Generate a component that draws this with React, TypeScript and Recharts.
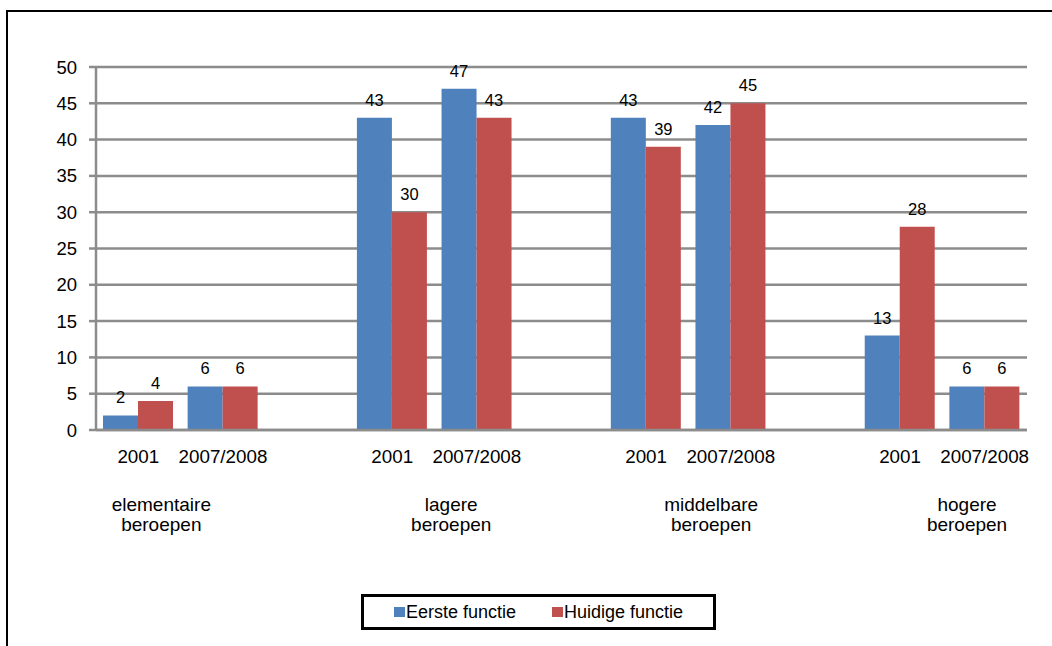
import React from 'react';
import { BarChart, Bar, XAxis, YAxis, CartesianGrid, Legend, LabelList } from 'recharts';

const groupLines = [
  ['elementaire', 'beroepen'],
  ['lagere', 'beroepen'],
  ['middelbare', 'beroepen'],
  ['hogere', 'beroepen'],
];
const years = ['2001', '2007/2008'];
const eersteFunctie = [2, 6, 43, 47, 43, 42, 13, 6];
const huidigeFunctie = [4, 6, 30, 43, 39, 45, 28, 6];
const yTicks = [0, 5, 10, 15, 20, 25, 30, 35, 40, 45, 50];

type Row = { id: string; year: string; group: number; eerste: number | null; huidige: number | null };
const rows: Row[] = [];
groupLines.forEach((_, g) => {
  years.forEach((y, j) => {
    const k = g * years.length + j;
    rows.push({ id: `${g}-${y}`, year: y, group: g, eerste: eersteFunctie[k], huidige: huidigeFunctie[k] });
  });
  if (g < groupLines.length - 1) rows.push({ id: `gap-${g}`, year: '', group: -1, eerste: null, huidige: null });
});

// horizontal placement of the two-line group captions relative to the "2001" tick
const groupShift = [23, 59, 65, 67];

const FONT = '"Liberation Sans", Arial, sans-serif';
const GRID = '#8c8c8c';
const BLUE = '#4F81BD';
const RED = '#C0504D';

const CategoryTick = (props: any) => {
  const { x, y, payload } = props;
  const row = rows.find((r) => r.id === payload.value);
  if (!row || !row.year) return null;
  const showGroup = row.year === years[0];
  return (
    <g>
      <text x={x} y={y + 33} textAnchor="middle" fontSize={18.8} fill="#000" fontFamily={FONT}>
        {row.year}
      </text>
      {showGroup &&
        groupLines[row.group].map((line, i) => (
          <text key={i} x={x + groupShift[row.group]} y={y + 81 + i * 20} textAnchor="middle" fontSize={19} fill="#000" fontFamily={FONT}>
            {line}
          </text>
        ))}
    </g>
  );
};

const LegendContent = (props: any) => {
  const items = props.payload || [];
  return (
    <div style={{ display: 'flex', justifyContent: 'center', alignItems: 'center', height: '100%', fontFamily: FONT, fontSize: 18, color: '#000' }}>
      {items.map((it: any, i: number) => (
        <div key={i} style={{ display: 'flex', alignItems: 'center', marginLeft: i === 0 ? 0 : 36 }}>
          <span style={{ display: 'inline-block', width: 11, height: 10, background: it.color, marginRight: 1 }} />
          <span>{it.value}</span>
        </div>
      ))}
    </div>
  );
};

export default function App() {
  return (
    <div style={{ position: 'fixed', left: 0, top: 0, width: 1052, height: 646, overflow: 'hidden', background: '#fff' }}>
      <div style={{ position: 'absolute', left: 6, top: 10, width: 2000, height: 2000, border: '2px solid #000' }} />
      <div style={{ position: 'absolute', left: 0, top: 0 }}>
        <BarChart
          width={1052}
          height={646}
          data={rows}
          margin={{ top: 67, right: 25, bottom: 96, left: 0 }}
          barCategoryGap={7}
          barGap={0}
        >
          <CartesianGrid vertical={false} stroke={GRID} strokeWidth={2.5} />
          <XAxis
            dataKey="id"
            interval={0}
            tickLine={false}
            tickSize={0}
            tickMargin={0}
            height={120}
            axisLine={{ stroke: GRID, strokeWidth: 2.5 }}
            tick={<CategoryTick />}
          />
          <YAxis
            type="number"
            domain={[0, 50]}
            ticks={yTicks}
            interval={0}
            width={96}
            tickSize={7}
            tickMargin={12}
            axisLine={{ stroke: GRID, strokeWidth: 2.5 }}
            tickLine={{ stroke: GRID, strokeWidth: 2.5 }}
            tick={{ fill: '#000', fontSize: 18.5, fontFamily: FONT }}
          />
          <Legend
            layout="horizontal"
            verticalAlign="middle"
            align="center"
            content={<LegendContent />}
            wrapperStyle={{ left: 361, top: 594, width: 355, height: 36, border: '3px solid #000', boxSizing: 'border-box', background: '#fff' }}
          />
          <Bar dataKey="eerste" name="Eerste functie" fill={BLUE} isAnimationActive={false}>
            <LabelList dataKey="eerste" position="top" offset={12} fill="#000" fontSize={16.5} fontFamily={FONT} />
          </Bar>
          <Bar dataKey="huidige" name="Huidige functie" fill={RED} isAnimationActive={false}>
            <LabelList dataKey="huidige" position="top" offset={12} fill="#000" fontSize={16.5} fontFamily={FONT} />
          </Bar>
        </BarChart>
      </div>
    </div>
  );
}
